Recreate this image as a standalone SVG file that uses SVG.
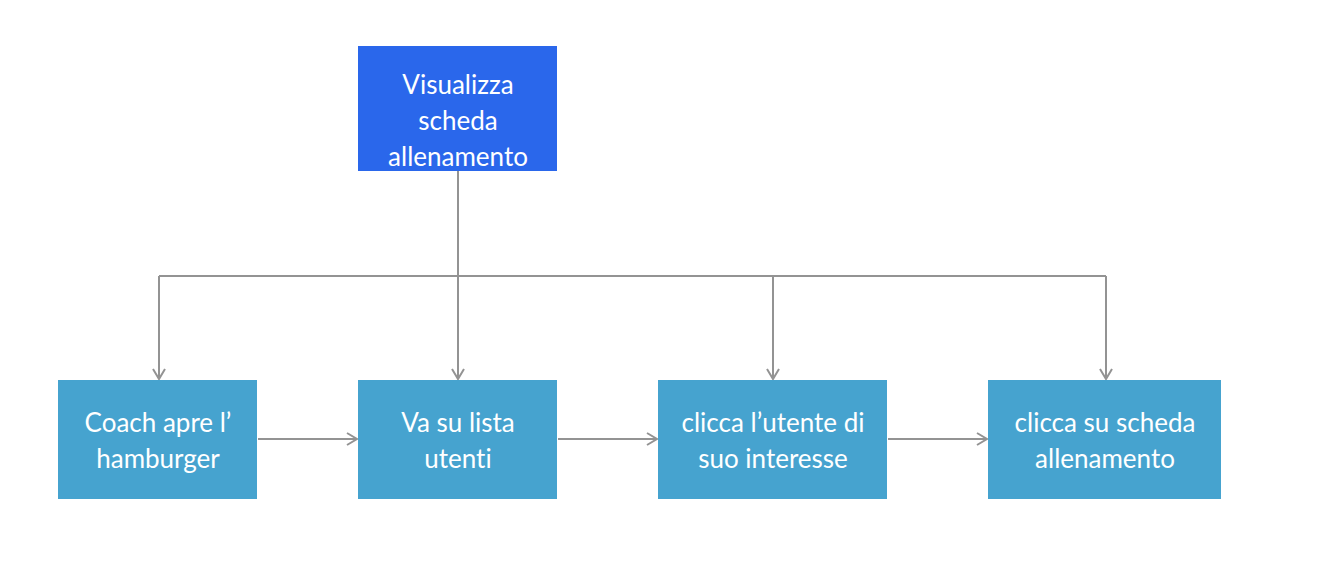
<svg xmlns="http://www.w3.org/2000/svg" width="1324" height="566" viewBox="0 0 1324 566">
<defs>
<marker id="arr" viewBox="0 0 14 14" refX="12" refY="7" markerWidth="14" markerHeight="14" markerUnits="userSpaceOnUse" orient="auto">
<path d="M2,1 L12,7 L2,13" fill="none" stroke="#939393" stroke-width="2"/>
</marker>
<style>
.top{fill:#2A67EB}
.box{fill:#46A3CF}
.t{font-family:Lato,"Noto Sans",sans-serif;font-size:26px;fill:#ffffff;text-anchor:middle;dominant-baseline:central;font-variant-ligatures:none}
.c{fill:none;stroke:#939393;stroke-width:2}
</style>
</defs>
<rect width="1324" height="566" fill="#ffffff"/>
<g id="connectors">
<path class="c" d="M458,171 V276"/>
<path class="c" d="M159,276 H1106"/>
<path class="c" d="M159,276 V379" marker-end="url(#arr)"/>
<path class="c" d="M458,276 V379" marker-end="url(#arr)"/>
<path class="c" d="M773,276 V379" marker-end="url(#arr)"/>
<path class="c" d="M1106,276 V379" marker-end="url(#arr)"/>
<path class="c" d="M258,439 H357" marker-end="url(#arr)"/>
<path class="c" d="M558,439 H657" marker-end="url(#arr)"/>
<path class="c" d="M888,439 H987" marker-end="url(#arr)"/>
</g>
<g id="n0">
<rect class="top" x="358" y="46" width="199" height="125"/>
<text class="t" x="458" y="84">Visualizza</text>
<text class="t" x="458" y="120">scheda</text>
<text class="t" x="458" y="156">allenamento</text>
</g>
<g id="n1">
<rect class="box" x="58" y="380" width="199" height="119"/>
<text class="t" x="158" y="422">Coach apre l’</text>
<text class="t" x="158" y="458">hamburger</text>
</g>
<g id="n2">
<rect class="box" x="358" y="380" width="199" height="119"/>
<text class="t" x="458" y="422">Va su lista</text>
<text class="t" x="458" y="458">utenti</text>
</g>
<g id="n3">
<rect class="box" x="658" y="380" width="229" height="119"/>
<text class="t" x="773" y="422">clicca l’utente di</text>
<text class="t" x="773" y="458">suo interesse</text>
</g>
<g id="n4">
<rect class="box" x="988" y="380" width="233" height="119"/>
<text class="t" x="1105" y="422">clicca su scheda</text>
<text class="t" x="1105" y="458">allenamento</text>
</g>
</svg>
